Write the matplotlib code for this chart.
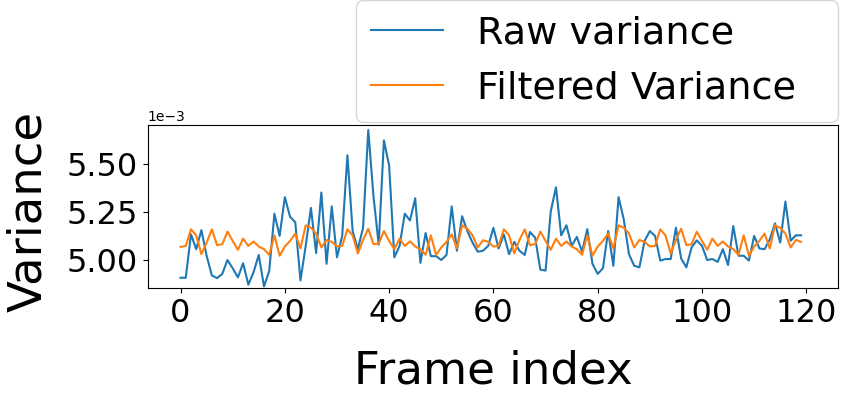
import matplotlib
matplotlib.use("Agg")
import matplotlib.pyplot as plt
import numpy as np

raw_variance = [
    4.908, 4.908, 5.133, 5.056, 5.155, 5.022, 4.920, 4.906, 4.928, 5.000,
    4.957, 4.910, 4.983, 4.872, 4.937, 5.026, 4.863, 4.942, 5.240, 5.125,
    5.326, 5.224, 5.196, 4.894, 5.073, 5.270, 5.036, 5.350, 4.980, 5.278,
    5.014, 5.125, 5.543, 5.150, 5.056, 5.167, 5.674, 5.330, 5.080, 5.620,
    5.490, 5.014, 5.073, 5.240, 5.205, 5.320, 4.985, 5.140, 5.020, 5.020,
    5.000, 5.026, 5.278, 5.048, 5.227, 5.150, 5.090, 5.043, 5.048, 5.073,
    5.167, 5.060, 5.133, 5.030, 5.094, 5.048, 5.026, 5.145, 5.116, 4.950,
    4.945, 5.253, 5.377, 5.128, 5.180, 5.073, 5.120, 5.043, 5.160, 4.980,
    4.928, 4.957, 5.150, 4.970, 5.326, 5.210, 5.030, 4.970, 4.962, 5.100,
    5.150, 5.125, 4.997, 5.005, 5.005, 5.167, 5.008, 4.962, 5.065, 5.102,
    5.073, 5.000, 5.005, 4.990, 5.056, 4.974, 5.176, 5.022, 5.022, 4.997,
    5.125, 5.060, 5.056, 5.107, 5.190, 5.090, 5.303, 5.100, 5.128, 5.128,
]

filtered_variance = [
    5.068, 5.073, 5.159, 5.128, 5.030, 5.090, 5.159, 5.077, 5.082, 5.147,
    5.099, 5.053, 5.111, 5.073, 5.096, 5.070, 5.056, 5.027, 5.128, 5.022,
    5.070, 5.099, 5.137, 5.060, 5.180, 5.167, 5.137, 5.065, 5.104, 5.094,
    5.070, 5.073, 5.159, 5.128, 5.034, 5.104, 5.162, 5.082, 5.085, 5.150,
    5.099, 5.056, 5.111, 5.073, 5.097, 5.070, 5.056, 5.027, 5.128, 5.027,
    5.065, 5.094, 5.133, 5.060, 5.180, 5.162, 5.128, 5.065, 5.102, 5.094,
    5.070, 5.073, 5.159, 5.128, 5.034, 5.104, 5.159, 5.077, 5.082, 5.147,
    5.099, 5.053, 5.111, 5.073, 5.096, 5.070, 5.056, 5.027, 5.128, 5.022,
    5.070, 5.099, 5.137, 5.060, 5.180, 5.167, 5.137, 5.065, 5.104, 5.094,
    5.070, 5.073, 5.159, 5.128, 5.034, 5.104, 5.162, 5.077, 5.082, 5.147,
    5.099, 5.053, 5.111, 5.073, 5.096, 5.070, 5.056, 5.027, 5.128, 5.022,
    5.070, 5.099, 5.137, 5.060, 5.180, 5.167, 5.137, 5.065, 5.104, 5.094,
]

scale = 1e-3
frames = np.arange(len(raw_variance))
raw = np.array(raw_variance) * scale
filt = np.array(filtered_variance) * scale

fig = plt.figure(figsize=(8.44, 3.95), dpi=100)
ax = fig.add_axes([0.175, 0.271, 0.818, 0.413])
ax.plot(frames, raw, color="#1f77b4", lw=1.5, label="Raw variance")
ax.plot(frames, filt, color="#ff7f0e", lw=1.5, label="Filtered Variance")

ax.set_xlabel("Frame index", fontsize=32.5, labelpad=15)
ax.set_ylabel("Variance", fontsize=33.5)
ax.yaxis.set_label_coords(-0.14, 0.47)
ax.tick_params(axis="both", labelsize=23)
ax.set_xticks([0, 20, 40, 60, 80, 100, 120])
ax.set_yticks([5.00e-3, 5.25e-3, 5.50e-3])
ax.set_xlim(-6.3, 126.1)
ax.set_ylim(4.855e-3, 5.701e-3)
ax.ticklabel_format(axis="y", style="sci", scilimits=(-3, -3))
ax.yaxis.get_offset_text().set_fontsize(10)

ax.legend(loc="lower left", bbox_to_anchor=(0.301, 1.018, 0.699, 0.5),
          mode="expand", fontsize=27.5, borderaxespad=0,
          handlelength=1.88, handletextpad=0.9, labelspacing=0.5)

fig.savefig("out.png", dpi=100)
